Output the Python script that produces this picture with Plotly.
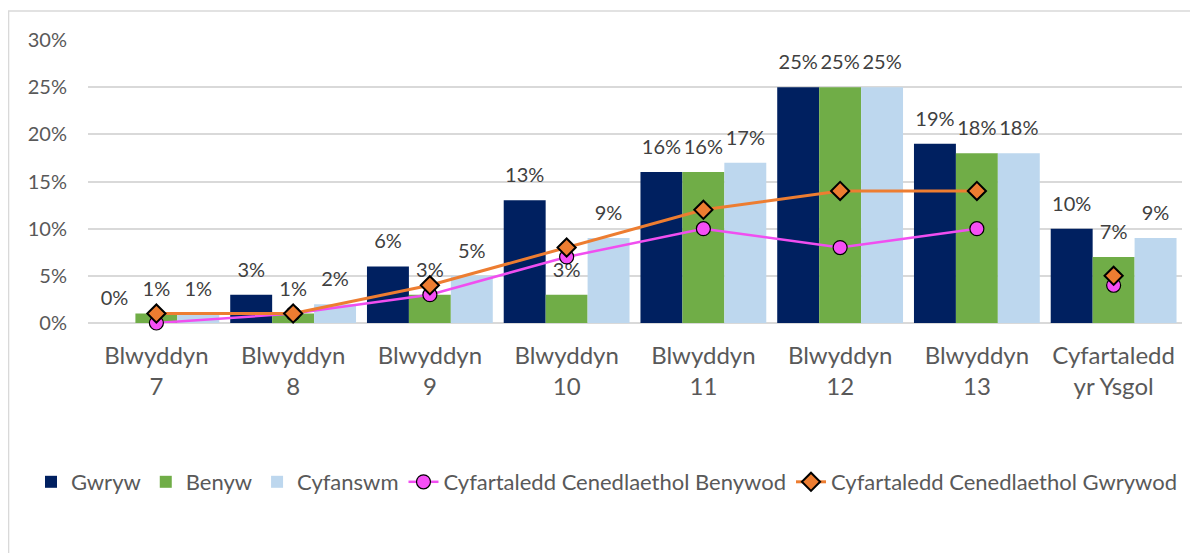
import plotly.graph_objects as go

categories = ["Blwyddyn<br>7", "Blwyddyn<br>8", "Blwyddyn<br>9", "Blwyddyn<br>10",
              "Blwyddyn<br>11", "Blwyddyn<br>12", "Blwyddyn<br>13", "Cyfartaledd<br>yr Ysgol"]
gwryw = [0, 3, 6, 13, 16, 25, 19, 10]
benyw = [1, 1, 3, 3, 16, 25, 18, 7]
cyfanswm = [1, 2, 5, 9, 17, 25, 18, 9]
nat_benywod = [0, 1, 3, 7, 10, 8, 10, 4]
nat_gwrywod = [1, 1, 4, 8, 12, 14, 14, 5]

# page has an 8px body margin, so figure coords = screen coords - 8
OFF = 8
W, H = 1198, 553
L, R, T, B = 88 - OFF, 24, 40 - OFF, 553 - (323 - OFF)
pw, ph = W - L - R, H - T - B

FONT = "Lato, Carlito, Calibri, sans-serif"


def label(v):
    # big value text plus a small empty second line to lift the label a little
    return f"<span style='font-size:20px'>{v}%</span><br>\u00a0"


fig = go.Figure()
for name, vals, col in [("Gwryw", gwryw, "#002060"),
                        ("Benyw", benyw, "#70ad47"),
                        ("Cyfanswm", cyfanswm, "#bdd7ee")]:
    fig.add_trace(go.Bar(x=categories, y=vals, name=name, marker=dict(color=col, line=dict(width=0)),
                         text=[label(v) for v in vals], textposition="outside",
                         constraintext="none",
                         textfont=dict(family=FONT, size=10, color="#404040"),
                         cliponaxis=False))

fig.add_trace(go.Scatter(x=categories[:7], y=nat_benywod[:7], mode="lines+markers",
                         name="Cyfartaledd Cenedlaethol Benywod",
                         line=dict(color="#f04ef0", width=2.5),
                         marker=dict(symbol="circle", size=14, color="#f54ff5",
                                     line=dict(color="black", width=1.2)),
                         cliponaxis=False))
fig.add_trace(go.Scatter(x=categories[7:], y=nat_benywod[7:], mode="markers",
                         showlegend=False,
                         marker=dict(symbol="circle", size=14, color="#f54ff5",
                                     line=dict(color="black", width=1.2)),
                         cliponaxis=False))
fig.add_trace(go.Scatter(x=categories[:7], y=nat_gwrywod[:7], mode="lines+markers",
                         name="Cyfartaledd Cenedlaethol Gwrywod",
                         line=dict(color="#ed7d31", width=3),
                         marker=dict(symbol="diamond", size=14, color="#ed7d31",
                                     line=dict(color="black", width=2)),
                         cliponaxis=False))
fig.add_trace(go.Scatter(x=categories[7:], y=nat_gwrywod[7:], mode="markers",
                         showlegend=False,
                         marker=dict(symbol="diamond", size=14, color="#ed7d31",
                                     line=dict(color="black", width=2)),
                         cliponaxis=False))

bx = (8 - OFF - L) / pw
ty = 1 + ((40 - OFF) - (11 - OFF)) / ph
by = -(H - T - ph) / ph - 0.02
shapes = [
    dict(type="line", xref="paper", yref="paper", x0=bx + 0.0005, x1=bx + 0.0005, y0=by, y1=ty,
         line=dict(color="#d9d9d9", width=1.5)),
    dict(type="line", xref="paper", yref="paper", x0=bx, x1=(W - L) / pw + 0.02, y0=ty, y1=ty,
         line=dict(color="#d9d9d9", width=1.5)),
]

fig.update_layout(
    width=W, height=H,
    margin=dict(l=L, r=R, t=T, b=B),
    paper_bgcolor="white", plot_bgcolor="white",
    barmode="group", bargap=0.08, bargroupgap=0,
    font=dict(family=FONT, color="#595959"),
    shapes=shapes,
    legend=dict(orientation="h", x=(31 - OFF - L) / pw, xanchor="left",
                y=-((482 - OFF) - T - ph) / ph, yanchor="middle",
                font=dict(family=FONT, size=22, color="#595959"),
                itemwidth=30, traceorder="normal"),
    xaxis=dict(tickfont=dict(family=FONT, size=24, color="#595959"), showline=False,
               ticks="", ticklabelstandoff=16),
    yaxis=dict(range=[0, 30], dtick=5, ticksuffix="%", showgrid=True, gridcolor="#d9d9d9",
               gridwidth=1.5, zeroline=True, zerolinecolor="#d9d9d9", zerolinewidth=1.5,
               tickfont=dict(family=FONT, size=20, color="#595959"), ticklabelstandoff=20),
)

fig.write_html("out.html")
